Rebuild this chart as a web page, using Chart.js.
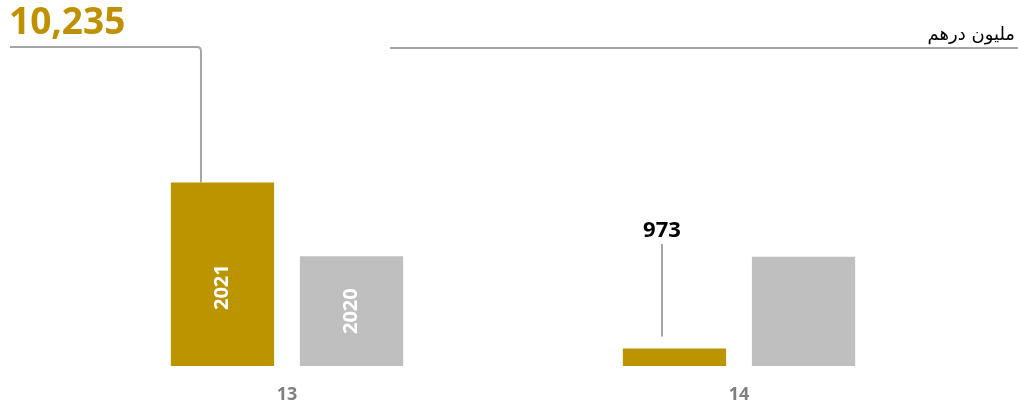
<!DOCTYPE html>
<html>
<head>
<meta charset="utf-8">
<script src="https://cdn.jsdelivr.net/npm/chart.js@4"></script>
<style>
  body { margin: 0; background: #fff; }
  #wrap { width: 1018px; height: 407px; position: relative; }
</style>
</head>
<body>
<div id="wrap"><canvas id="chart" width="1018" height="407"></canvas></div>
<script>
/* ================= DATA ================= */
const categories = ["13", "14"];
const years = ["2021", "2020"];
const values2021 = [10235, 973];
const values2020 = [6120, 6100];
const valueLabels = ["10,235", "973"];
const unitLabel = "مليون درهم";

const GOLD = "#BB9400";
const GREY = "#BFBFBF";
const LINE = "#A6A6A6";

/* ================= ANNOTATIONS ================= */
const annotations = {
  id: "annotations",
  afterDatasetsDraw(chart) {
    const ctx = chart.ctx;
    const gold = chart.getDatasetMeta(0).data;
    const grey = chart.getDatasetMeta(1).data;
    const x = chart.scales.x;

    ctx.save();

    // category labels under the bars
    ctx.fillStyle = "#7F7F7F";
    ctx.font = "bold 18px 'Open Sans', sans-serif";
    ctx.textAlign = "center";
    ctx.textBaseline = "middle";
    categories.forEach((c, i) => {
      ctx.fillText(c, x.getPixelForValue(i), 395);
    });

    // year labels inside the first group
    ctx.fillStyle = "#fff";
    ctx.font = "bold 20px 'Open Sans', sans-serif";
    [[gold[0], years[0], 0.57], [grey[0], years[1], 0.5]].forEach(([bar, txt, f]) => {
      ctx.save();
      ctx.translate(bar.x, bar.y + (bar.base - bar.y) * f);
      ctx.rotate(-Math.PI / 2);
      ctx.fillText(txt, 0, 0);
      ctx.restore();
    });

    // leader for big value
    ctx.strokeStyle = LINE;
    ctx.lineWidth = 2;
    const lx = gold[0].x - 21.5;
    const r = 4;
    ctx.beginPath();
    ctx.moveTo(10, 47);
    ctx.lineTo(lx - r, 47);
    ctx.quadraticCurveTo(lx, 47, lx, 47 + r);
    ctx.lineTo(lx, gold[0].y);
    ctx.stroke();

    ctx.fillStyle = "#BF9000";
    ctx.font = "bold 37px 'Open Sans', sans-serif";
    ctx.textAlign = "left";
    ctx.fillText(valueLabels[0], 9, 23);

    // leader for small value
    const sx = gold[1].x - 12.5;
    ctx.beginPath();
    ctx.moveTo(sx, 244);
    ctx.lineTo(sx, gold[1].y - 12);
    ctx.stroke();

    ctx.fillStyle = "#000";
    ctx.font = "bold 22px 'Open Sans', sans-serif";
    ctx.textAlign = "center";
    ctx.fillText(valueLabels[1], sx, 231);

    // unit line + label top right
    ctx.beginPath();
    ctx.moveTo(390, 48);
    ctx.lineTo(1018, 48);
    ctx.stroke();

    ctx.fillStyle = "#000";
    ctx.font = "18px 'DejaVu Sans', sans-serif";
    ctx.textAlign = "right";
    ctx.fillText(unitLabel, 1015, 35);

    ctx.restore();
  }
};

/* ================= CHART ================= */
new Chart(document.getElementById("chart").getContext("2d"), {
  type: "bar",
  data: {
    labels: categories,
    datasets: [
      { label: years[0], data: values2021, backgroundColor: GOLD },
      { label: years[1], data: values2020, backgroundColor: GREY }
    ]
  },
  options: {
    responsive: false,
    animation: false,
    layout: { padding: { left: 61, right: 53, top: 151, bottom: 41 } },
    categoryPercentage: 0.571,
    barPercentage: 0.8,
    plugins: { legend: { display: false }, tooltip: { enabled: false } },
    scales: {
      x: { display: false },
      y: { display: false, min: 0, max: 12000 }
    }
  },
  plugins: [annotations]
});
</script>
</body>
</html>
